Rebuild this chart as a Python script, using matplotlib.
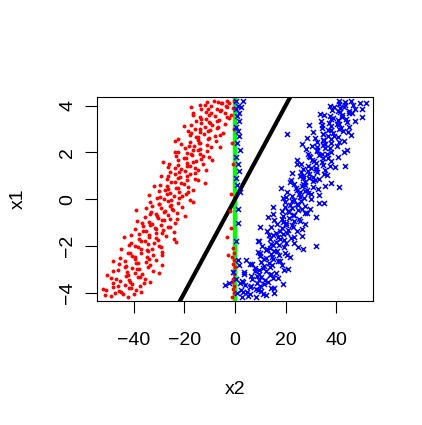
import numpy as np
import matplotlib
matplotlib.use("Agg")
import matplotlib.pyplot as plt

plt.rcParams['font.family'] = ['Liberation Sans', 'DejaVu Sans']

# class 1 points (x1, x2)
red_pairs = [
    (-4.18, -42.4), (-4.11, -51.4), (-4.07, -44.3), (-4.02, -47.6), (-3.97, -37.3), (-3.93, -45.8),
    (-3.88, -39.3), (-3.84, -52.2), (-3.80, -42.0), (-3.76, -48.1), (-3.71, -37.6), (-3.67, -43.6),
    (-3.63, -40.5), (-3.58, -48.1), (-3.54, -33.5), (-3.49, -45.4), (-3.45, -42.0), (-3.41, -35.5),
    (-3.36, -48.9), (-3.32, -37.7), (-3.28, -43.2), (-3.23, -50.6), (-3.19, -36.7), (-3.15, -39.7),
    (-3.10, -42.8), (-3.06, -32.4), (-3.02, -46.1), (-2.97, -37.8), (-2.93, -40.7), (-2.89, -34.5),
    (-2.84, -42.9), (-2.80, -28.9), (-2.76, -45.8), (-2.71, -38.2), (-2.67, -35.0), (-2.63, -43.3),
    (-2.58, -31.2), (-2.54, -39.4), (-2.50, -45.5), (-2.45, -34.6), (-2.41, -40.6), (-2.37, -32.5),
    (-2.32, -37.0), (-2.28, -42.3), (-2.24, -28.7), (-2.19, -34.9), (-2.15, -44.9), (-2.11, -32.9),
    (-2.06, -38.2), (-2.02, -30.0), (-1.98, -39.4), (-1.93, -34.2), (-1.89, -41.2), (-1.85, -23.5),
    (-1.80, -35.6), (-1.76, -30.3), (-1.72, -38.0), (-1.67, -31.4), (-1.63, -43.8), (-1.59, -27.3),
    (-1.54, -33.8), (-1.50, -37.8), (-1.46, -31.3), (-1.41, -24.0), (-1.37, -35.3), (-1.33, -28.6),
    (-1.28, -39.4), (-1.24, -31.5), (-1.20, -26.3), (-1.15, -36.4), (-1.11, -29.2), (-1.07, -32.9),
    (-1.02, -23.7), (-0.98, -34.0), (-0.94, -38.9), (-0.89, -28.9), (-0.85, -25.5), (-0.81, -30.5),
    (-0.76, -35.6), (-0.72, -19.7), (-0.68, -26.5), (-0.63, -31.4), (-0.59, -22.9), (-0.55, -33.2),
    (-0.50, -27.8), (-0.46, -39.2), (-0.42, -24.7), (-0.37, -29.3), (-0.33, -20.9), (-0.29, -32.8),
    (-0.24, -25.3), (-0.20, -30.0), (-0.16, -22.7), (-0.11, -33.5), (-0.07, -26.3), (-0.03, -17.7),
    (0.02, -27.9), (0.06, -22.1), (0.10, -29.8), (0.15, -24.1), (0.19, -34.1), (0.23, -19.3),
    (0.28, -25.5), (0.32, -22.0), (0.36, -30.0), (0.41, -16.5), (0.45, -26.5), (0.49, -23.3),
    (0.54, -18.7), (0.58, -27.0), (0.62, -29.7), (0.67, -21.2), (0.71, -11.9), (0.75, -23.7),
    (0.80, -18.8), (0.84, -26.9), (0.88, -15.9), (0.93, -21.9), (0.97, -29.4), (1.01, -19.0),
    (1.06, -23.8), (1.10, -15.8), (1.14, -25.8), (1.19, -19.7), (1.23, -11.3), (1.27, -21.4),
    (1.32, -16.0), (1.36, -26.5), (1.40, -17.9), (1.45, -22.7), (1.49, -12.6), (1.53, -19.0),
    (1.58, -28.4), (1.62, -15.6), (1.66, -22.4), (1.71, -13.3), (1.75, -19.5), (1.79, -10.3),
    (1.84, -23.2), (1.88, -17.1), (1.92, -13.9), (1.97, -19.0), (2.01, -23.9), (2.05, -11.0),
    (2.10, -16.6), (2.14, -13.8), (2.18, -19.8), (2.23, -6.0), (2.27, -16.3), (2.31, -10.9),
    (2.36, -21.3), (2.40, -13.7), (2.44, -17.7), (2.49, -7.7), (2.53, -14.7), (2.57, -22.5),
    (2.62, -10.4), (2.66, -15.6), (2.70, -8.1), (2.75, -17.6), (2.79, -12.1), (2.83, -4.8),
    (2.88, -13.8), (2.92, -18.5), (2.96, -9.7), (3.01, -15.7), (3.05, -7.3), (3.09, -11.9),
    (3.14, -20.3), (3.18, -9.2), (3.22, -4.1), (3.27, -13.3), (3.31, -10.1), (3.35, -15.3),
    (3.40, -6.4), (3.44, -11.4), (3.48, -2.3), (3.53, -13.7), (3.57, -7.8), (3.61, -16.6),
    (3.66, -3.9), (3.70, -9.5), (3.74, -11.4), (3.79, -5.6), (3.83, -13.5), (3.87, -7.2),
    (3.92, -17.5), (3.96, -3.5), (4.00, -9.4), (4.04, -13.8), (4.09, -5.2), (4.13, -6.9),
    (4.17, -11.1), (4.21, -3.1),
    (-4.14, -48.9), (-4.05, -39.8), (-3.95, -45.2), (-3.86, -51.0), (-3.78, -41.1), (-3.69, -46.2),
    (-3.60, -35.8), (-3.52, -41.6), (-3.43, -47.2), (-3.34, -38.4), (-3.26, -42.3), (-3.17, -29.9),
    (-3.08, -48.3), (-3.00, -38.7), (-2.91, -43.4), (-2.82, -33.6), (-2.74, -39.1), (-2.65, -48.1),
    (-2.56, -33.9), (-2.48, -39.7), (-2.39, -29.0), (-2.30, -41.6), (-2.21, -34.5), (-2.13, -37.2),
    (-2.04, -29.3), (-1.95, -41.7), (-1.87, -32.0), (-1.78, -37.0), (-1.69, -24.1), (-1.61, -34.0),
    (-1.52, -41.2), (-1.43, -29.0), (-1.35, -36.3), (-1.26, -31.1), (-1.17, -25.7), (-1.09, -33.4),
    (-1.00, -36.9), (-0.91, -28.2), (-0.83, -22.9), (-0.74, -30.9), (-0.65, -33.5), (-0.57, -28.1),
    (-0.48, -24.4), (-0.39, -35.2), (-0.31, -25.8), (-0.22, -29.9), (-0.13, -16.5), (-0.05, -25.3),
    (0.04, -30.7), (0.13, -21.0), (0.21, -26.8), (0.30, -18.5), (0.39, -27.8), (0.47, -22.5),
    (0.56, -32.1), (0.65, -20.0), (0.73, -25.1), (0.82, -14.5), (0.91, -22.5), (0.99, -26.6),
    (1.08, -17.7), (1.17, -22.0), (1.25, -14.6), (1.34, -23.8), (1.43, -19.1), (1.51, -26.1),
    (1.60, -16.5), (1.69, -9.1), (1.77, -20.1), (1.86, -12.7), (1.95, -17.5), (2.03, -22.4),
    (2.12, -14.8), (2.21, -9.6), (2.29, -18.3), (2.38, -14.4), (2.47, -23.7), (2.55, -10.5),
    (2.64, -14.7), (2.73, -5.8), (2.81, -17.4), (2.90, -10.6), (2.99, -13.9), (3.07, -6.6),
    (3.16, -17.2), (3.25, -10.0), (3.33, -7.3), (3.42, -13.3), (3.51, -3.3), (3.59, -10.4),
    (3.68, -16.6), (3.77, -6.1), (3.85, -10.5), (3.94, -3.0), (4.03, -11.7), (4.11, -5.7),
    (4.19, -8.2),
    # near the x2 = 0 line
    (-4.2, -1.0), (-4.0, -0.5), (-3.85, -0.8), (-3.7, -0.3), (-3.55, -1.2), (-3.4, -0.6), (-3.2, -0.4),
    (-3.05, -0.9), (-2.9, -0.2), (-2.75, -0.7), (-2.6, -0.5), (-2.45, -1.3), (-2.3, -0.3), (-2.1, -0.8),
    (-1.25, -1.5), (-0.5, -1.8), (1.5, -0.6), (2.4, -1.2), (3.0, -0.4), (3.6, -1.4), (3.9, -0.7),
    (4.2, -0.3), (4.1, -2.3), (0.2, -1.6), (-1.6, -3.1), (-2.4, -2.9),
]

# class 2 points (x1, x2)
blue_pairs = [
    (-4.20, 8.2), (-4.16, 2.8), (-4.11, 12.4), (-4.07, 5.9), (-4.03, 15.6), (-3.98, 4.7), (-3.94, 10.3),
    (-3.90, 2.5), (-3.85, 8.3), (-3.81, 14.2), (-3.77, 6.1), (-3.72, 10.0), (-3.68, 3.8), (-3.64, 18.8),
    (-3.59, 8.5), (-3.55, 13.2), (-3.51, 2.6), (-3.46, 11.9), (-3.42, 6.8), (-3.38, 16.8), (-3.33, 10.1),
    (-3.29, 6.2), (-3.25, 14.0), (-3.20, 9.5), (-3.16, 16.2), (-3.12, 3.7), (-3.07, 12.4), (-3.03, 9.3),
    (-2.99, 20.8), (-2.94, 8.0), (-2.90, 14.0), (-2.86, 11.5), (-2.81, 18.5), (-2.77, 6.8), (-2.73, 13.6),
    (-2.68, 10.4), (-2.64, 17.8), (-2.60, 4.4), (-2.55, 15.0), (-2.51, 12.3), (-2.47, 21.7), (-2.42, 9.8),
    (-2.38, 17.2), (-2.34, 14.3), (-2.29, 19.7), (-2.25, 8.9), (-2.21, 15.5), (-2.16, 12.2), (-2.12, 27.0),
    (-2.08, 13.9), (-2.03, 19.3), (-1.99, 10.7), (-1.95, 17.2), (-1.90, 14.3), (-1.86, 23.4), (-1.82, 16.3),
    (-1.77, 9.1), (-1.73, 19.5), (-1.69, 14.0), (-1.64, 22.1), (-1.60, 16.8), (-1.56, 26.4), (-1.51, 13.5),
    (-1.47, 19.1), (-1.43, 16.0), (-1.38, 24.5), (-1.34, 12.6), (-1.30, 21.1), (-1.25, 18.5), (-1.21, 22.8),
    (-1.17, 10.0), (-1.12, 20.3), (-1.08, 16.5), (-1.04, 27.5), (-0.99, 19.0), (-0.95, 23.3), (-0.91, 15.4),
    (-0.86, 25.1), (-0.82, 21.2), (-0.78, 32.1), (-0.73, 18.8), (-0.69, 23.2), (-0.65, 15.1), (-0.60, 27.6),
    (-0.56, 21.3), (-0.52, 18.6), (-0.47, 25.0), (-0.43, 29.7), (-0.39, 22.5), (-0.34, 15.2), (-0.30, 27.5),
    (-0.26, 21.8), (-0.21, 24.6), (-0.17, 33.1), (-0.13, 19.6), (-0.08, 26.2), (-0.04, 23.2), (0.00, 29.9),
    (0.05, 19.0), (0.09, 25.6), (0.13, 22.6), (0.18, 33.3), (0.22, 25.1), (0.26, 29.0), (0.31, 20.5),
    (0.35, 27.7), (0.39, 24.5), (0.44, 32.8), (0.48, 18.0), (0.52, 30.8), (0.57, 26.3), (0.61, 27.7),
    (0.65, 23.5), (0.70, 38.1), (0.74, 27.5), (0.78, 30.9), (0.83, 22.0), (0.87, 33.2), (0.91, 27.0),
    (0.96, 30.7), (1.00, 25.6), (1.04, 36.2), (1.09, 29.3), (1.13, 22.5), (1.17, 32.3), (1.22, 28.7),
    (1.26, 35.5), (1.30, 26.7), (1.35, 31.9), (1.39, 39.4), (1.43, 28.7), (1.48, 34.8), (1.52, 26.0),
    (1.56, 32.1), (1.61, 31.2), (1.65, 38.0), (1.69, 24.6), (1.74, 34.6), (1.78, 29.7), (1.82, 40.5),
    (1.87, 33.1), (1.91, 36.3), (1.95, 28.9), (2.00, 38.1), (2.04, 32.3), (2.08, 44.4), (2.13, 28.2),
    (2.17, 35.4), (2.21, 32.3), (2.26, 40.4), (2.30, 34.7), (2.34, 26.5), (2.39, 38.0), (2.43, 32.2),
    (2.47, 43.0), (2.52, 35.2), (2.56, 38.0), (2.60, 31.6), (2.65, 40.7), (2.69, 36.9), (2.73, 45.9),
    (2.78, 34.7), (2.82, 38.6), (2.86, 30.8), (2.91, 42.5), (2.95, 36.9), (2.99, 41.0), (3.04, 34.2),
    (3.08, 44.9), (3.12, 38.1), (3.17, 29.1), (3.21, 41.1), (3.25, 37.2), (3.30, 44.2), (3.34, 33.9),
    (3.38, 40.6), (3.43, 43.8), (3.47, 38.9), (3.51, 50.2), (3.56, 37.5), (3.60, 42.3), (3.64, 33.7),
    (3.69, 46.2), (3.73, 41.3), (3.77, 44.9), (3.82, 38.2), (3.86, 50.0), (3.90, 41.4), (3.95, 43.1),
    (3.99, 37.4), (4.03, 46.8), (4.08, 41.2), (4.12, 49.4), (4.16, 43.3), (4.21, 45.7),
    (-4.13, 5.3), (-4.04, 11.2), (-3.96, 3.0), (-3.87, 8.9), (-3.78, 15.5), (-3.70, 6.5), (-3.61, 11.4),
    (-3.53, 3.3), (-3.44, 9.5), (-3.35, 15.0), (-3.27, 8.7), (-3.18, 14.2), (-3.09, 7.8), (-3.01, 19.5),
    (-2.92, 11.0), (-2.83, 14.5), (-2.75, 5.8), (-2.66, 17.1), (-2.57, 11.5), (-2.49, 14.7), (-2.40, 20.6),
    (-2.31, 10.0), (-2.23, 16.6), (-2.14, 12.7), (-2.05, 24.9), (-1.97, 15.2), (-1.88, 20.0), (-1.79, 9.4),
    (-1.71, 17.8), (-1.62, 23.2), (-1.53, 15.1), (-1.45, 20.4), (-1.36, 17.6), (-1.27, 26.4), (-1.19, 14.2),
    (-1.10, 22.5), (-1.01, 20.2), (-0.93, 25.8), (-0.84, 18.6), (-0.75, 13.2), (-0.67, 23.0), (-0.58, 28.4),
    (-0.49, 20.9), (-0.41, 26.5), (-0.32, 19.6), (-0.23, 24.7), (-0.15, 35.1), (-0.06, 22.5), (0.03, 27.1),
    (0.11, 20.2), (0.20, 30.0), (0.29, 25.6), (0.37, 28.3), (0.46, 23.9), (0.55, 35.4), (0.63, 26.8),
    (0.72, 21.6), (0.81, 31.6), (0.89, 29.2), (0.98, 26.9), (1.07, 35.2), (1.15, 25.9), (1.24, 31.8),
    (1.33, 30.2), (1.41, 37.5), (1.50, 24.4), (1.59, 34.5), (1.67, 30.6), (1.76, 36.9), (1.85, 29.2),
    (1.93, 34.3), (2.02, 42.9), (2.11, 32.4), (2.19, 37.6), (2.28, 30.3), (2.37, 35.7), (2.45, 40.9),
    (2.54, 34.8), (2.63, 28.6), (2.71, 39.0), (2.80, 34.6), (2.89, 44.5), (2.97, 37.9), (3.06, 41.7),
    (3.15, 34.5), (3.23, 40.3), (3.32, 47.6), (3.41, 37.9), (3.49, 42.1), (3.58, 35.1), (3.67, 45.1),
    (3.75, 40.8), (3.84, 47.6), (3.93, 39.3), (4.01, 43.4), (4.10, 51.6), (4.18, 40.9),
    (2.8, 20.5), (-2.0, 32.0), (1.4, 43.5), (0.5, 41.0),
    # near the x2 = 0 line
    (4.2, 0.5), (4.0, 1.2), (3.85, 0.3), (3.7, 1.5), (3.55, 0.8), (3.35, 1.6), (3.1, 0.4), (2.9, 1.0),
    (2.7, 1.4), (2.4, 0.6), (2.1, 1.8), (1.8, 0.3), (1.5, 1.1), (1.2, 1.6), (0.9, 0.5), (0.6, 0.9),
    (0.3, 2.0), (-0.4, 1.3), (-1.0, 1.0), (-1.8, 0.5), (-2.6, 1.2), (-3.1, -0.8), (-3.4, 0.5),
    (-3.6, 1.8), (-3.2, 3.5), (-2.8, 1.6), (4.2, 3.0), (3.95, 2.3), (-4.0, 0.8), (-3.65, -4.0),
    (-3.6, -2.3),
]

# separating line: x1 = slope * x2 through the origin
black_slope = 0.2

red_x1, red_x2 = np.array(red_pairs).T
blue_x1, blue_x2 = np.array(blue_pairs).T

fig = plt.figure(figsize=(4.22, 4.25), dpi=100)
ax = fig.add_axes([0.2306, 0.2918, 0.6526, 0.4792])

ax.axvline(0, color='#00ff00', lw=3.2, zorder=1)
ax.axline((0, 0), slope=black_slope, color='black', lw=3.0, zorder=2)
ax.plot(red_x2, red_x1, 'o', color='red', ms=2.8, mew=0, zorder=3)
ax.plot(blue_x2, blue_x1, 'x', color='blue', ms=3.6, mew=1.1, zorder=3)

ax.set_xlim(-54.4, 54.4)
ax.set_ylim(-4.35, 4.35)
ax.set_xticks([-40, -20, 0, 20, 40])
ax.set_yticks([-4, -2, 0, 2, 4])
for s in ax.spines.values():
    s.set_linewidth(0.8)
ax.tick_params(length=8.5, width=0.8, labelsize=14)
ax.tick_params(axis='x', pad=14)
ax.tick_params(axis='y', pad=6.5, labelrotation=90)
for lab in ax.get_yticklabels():
    lab.set_va('center')

ax.set_xlabel('x2', fontsize=14, labelpad=23)
ax.set_ylabel('x1', fontsize=14, labelpad=23.5)

fig.savefig('out.png', dpi=100)
